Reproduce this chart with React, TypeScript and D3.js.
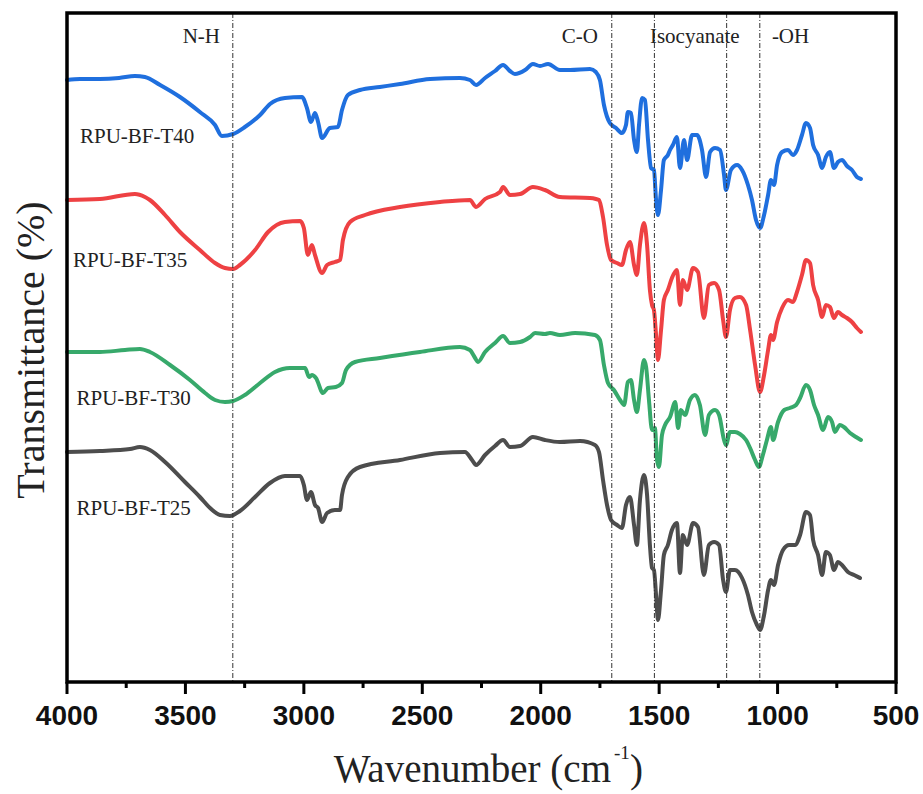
import React, { useEffect } from 'react';
import * as d3 from 'd3';

type Pt = [number, number];

const seriesNames = ['RPU-BF-T40', 'RPU-BF-T35', 'RPU-BF-T30', 'RPU-BF-T25'];
const seriesColors = ['#1f6fde', '#ee4143', '#37a96b', '#4d4d4d'];

const t40: Pt[] = [
  [4000, 602], [3945, 603], [3861, 603], [3780, 604], [3713, 606], [3671, 605], [3607, 597],
  [3523, 585], [3439, 570], [3375, 557], [3346, 546], [3299, 548], [3249, 555], [3185, 567],
  [3143, 578], [3080, 584], [3008, 585], [2987, 574], [2970, 560], [2953, 569], [2940, 560],
  [2923, 544], [2890, 554], [2856, 555], [2839, 572], [2814, 587], [2763, 592], [2679, 595],
  [2594, 598], [2467, 603], [2341, 604], [2299, 602], [2273, 597], [2235, 604], [2193, 611],
  [2159, 617], [2130, 611], [2109, 608], [2066, 612], [2033, 618], [2003, 616], [1969, 618],
  [1919, 612], [1876, 612], [1792, 613], [1767, 610], [1750, 602], [1733, 577], [1708, 559],
  [1682, 554], [1657, 549], [1640, 557], [1632, 570], [1619, 569], [1606, 542], [1594, 530],
  [1585, 557], [1572, 584], [1560, 582], [1547, 542], [1534, 514], [1522, 512], [1513, 482],
  [1505, 467], [1492, 492], [1480, 522], [1463, 527], [1454, 532], [1442, 537], [1425, 545],
  [1412, 514], [1395, 542], [1382, 522], [1361, 547], [1340, 547], [1319, 532], [1302, 505],
  [1285, 530], [1264, 534], [1243, 532], [1226, 507], [1218, 492], [1197, 512], [1171, 517],
  [1150, 512], [1125, 497], [1108, 482], [1091, 462], [1074, 454], [1057, 467], [1040, 487],
  [1028, 502], [1015, 497], [1002, 517], [981, 530], [956, 532], [935, 527], [918, 532],
  [897, 547], [880, 559], [863, 554], [850, 537], [829, 527], [812, 514], [796, 525],
  [779, 530], [762, 514], [745, 520], [728, 522], [707, 516], [686, 512], [665, 505], [648, 503],
];

const t35: Pt[] = [
  [4000, 482], [3861, 483], [3713, 488], [3671, 485], [3650, 482], [3586, 467], [3523, 450],
  [3439, 432], [3375, 419], [3333, 414], [3299, 413], [3270, 417], [3206, 432], [3151, 450],
  [3080, 460], [3016, 461], [3000, 454], [2983, 427], [2966, 437], [2953, 427], [2923, 409],
  [2902, 417], [2869, 420], [2847, 422], [2835, 442], [2805, 460], [2742, 467], [2594, 475],
  [2425, 480], [2299, 482], [2273, 475], [2235, 483], [2172, 490], [2159, 495], [2130, 487],
  [2087, 488], [2033, 495], [1982, 492], [1919, 485], [1792, 484], [1767, 483], [1754, 482],
  [1737, 465], [1720, 437], [1703, 422], [1678, 419], [1657, 417], [1640, 432], [1623, 440],
  [1606, 417], [1594, 407], [1581, 437], [1564, 459], [1551, 437], [1539, 392], [1530, 377],
  [1522, 372], [1513, 347], [1505, 322], [1492, 352], [1480, 382], [1463, 392], [1446, 404],
  [1425, 412], [1412, 377], [1400, 402], [1382, 392], [1357, 414], [1336, 410], [1311, 364],
  [1290, 397], [1268, 399], [1247, 392], [1230, 362], [1218, 345], [1201, 372], [1180, 384],
  [1159, 385], [1133, 377], [1116, 352], [1095, 317], [1074, 290], [1057, 307], [1040, 332],
  [1028, 347], [1019, 342], [1002, 360], [981, 374], [956, 382], [935, 380], [918, 390],
  [897, 407], [880, 422], [863, 419], [850, 397], [829, 382], [812, 365], [796, 377],
  [779, 375], [762, 364], [745, 370], [728, 367], [707, 364], [686, 360], [665, 354], [648, 350],
];

const t30: Pt[] = [
  [4000, 330], [3861, 330], [3755, 332], [3692, 333], [3650, 330], [3565, 317], [3481, 302],
  [3417, 289], [3375, 282], [3333, 280], [3299, 281], [3249, 287], [3185, 299], [3122, 310],
  [3059, 314], [2995, 314], [2978, 305], [2966, 307], [2949, 304], [2919, 289], [2898, 294],
  [2865, 295], [2839, 299], [2822, 312], [2784, 320], [2679, 324], [2510, 330], [2341, 335],
  [2299, 332], [2277, 324], [2265, 320], [2235, 330], [2193, 339], [2159, 346], [2130, 339],
  [2087, 340], [2045, 345], [2024, 349], [1982, 348], [1961, 349], [1919, 347], [1855, 349],
  [1771, 347], [1750, 342], [1733, 317], [1716, 299], [1691, 292], [1665, 282], [1648, 277],
  [1632, 300], [1619, 302], [1606, 282], [1594, 270], [1581, 292], [1564, 322], [1555, 315],
  [1543, 282], [1530, 252], [1518, 254], [1509, 222], [1501, 215], [1488, 247], [1475, 257],
  [1454, 265], [1432, 280], [1420, 254], [1408, 272], [1391, 267], [1370, 282], [1349, 287],
  [1328, 277], [1306, 247], [1290, 267], [1264, 272], [1247, 267], [1226, 242], [1218, 237],
  [1201, 250], [1180, 250], [1159, 248], [1133, 242], [1116, 234], [1095, 222], [1079, 215],
  [1062, 227], [1045, 242], [1028, 255], [1019, 242], [998, 260], [972, 272], [948, 274],
  [922, 277], [905, 284], [880, 297], [863, 292], [846, 277], [829, 267], [808, 252],
  [787, 265], [770, 260], [758, 250], [737, 257], [720, 255], [694, 249], [669, 245], [648, 242],
];

const t25: Pt[] = [
  [4000, 230], [3861, 231], [3734, 233], [3692, 235], [3650, 232], [3586, 220], [3502, 200],
  [3439, 185], [3396, 174], [3354, 167], [3312, 166], [3270, 171], [3206, 185], [3143, 199],
  [3080, 206], [3016, 206], [3000, 197], [2987, 182], [2970, 190], [2953, 177], [2940, 174],
  [2923, 160], [2902, 169], [2869, 172], [2847, 172], [2839, 187], [2814, 205], [2763, 215],
  [2594, 222], [2425, 229], [2320, 230], [2290, 222], [2273, 217], [2235, 227], [2193, 236],
  [2159, 242], [2130, 235], [2087, 236], [2033, 245], [1982, 242], [1919, 240], [1834, 241],
  [1771, 237], [1754, 230], [1737, 202], [1720, 177], [1703, 162], [1678, 157], [1657, 154],
  [1640, 177], [1623, 185], [1606, 157], [1594, 137], [1581, 182], [1564, 207], [1551, 187],
  [1539, 137], [1530, 114], [1522, 112], [1513, 87], [1505, 62], [1492, 92], [1480, 127],
  [1463, 137], [1446, 152], [1425, 159], [1412, 109], [1400, 147], [1382, 137], [1357, 159],
  [1336, 155], [1311, 107], [1290, 137], [1268, 140], [1247, 137], [1230, 102], [1218, 90],
  [1201, 112], [1180, 112], [1150, 104], [1125, 87], [1108, 70], [1087, 57], [1074, 52],
  [1057, 67], [1040, 92], [1028, 102], [1015, 97], [998, 117], [977, 132], [951, 137],
  [926, 137], [905, 147], [880, 170], [863, 167], [850, 142], [829, 127], [812, 107],
  [796, 130], [779, 127], [762, 112], [745, 120], [728, 117], [703, 110], [677, 107], [652, 104],
];

const seriesData = [t40, t35, t30, t25];

const majorTicks = [4000, 3500, 3000, 2500, 2000, 1500, 1000, 500];
const minorTicks = [3750, 3250, 2750, 2250, 1750, 1250, 750];
const bandLines = [3300, 1700, 1520, 1215, 1075];
const bandLabels = ['N-H', 'C-O', 'Isocyanate', '-OH'];

const W = 923;
const H = 794;
const M = { left: 67, right: 896, top: 13, bottom: 682 };

export default function App() {
  useEffect(() => {
    document.body.style.margin = '0';
  }, []);

  const x = d3.scaleLinear().domain([4000, 500]).range([M.left, M.right]);
  const y = d3.scaleLinear().domain([0, 670]).range([M.bottom, M.top - 1]);
  const line = d3
    .line<Pt>()
    .x((d) => x(d[0]))
    .y((d) => y(d[1]))
    .curve(d3.curveMonotoneX);

  // label layout: [wavenumber anchor, value anchor]
  const seriesLabelPos: Pt[] = [
    [3945, 539],
    [3975, 415],
    [3960, 277],
    [3960, 167],
  ];
  // band label layout: [wavenumber, anchor]
  const bandLabelPos: [number, string][] = [
    [3354, 'end'],
    [1758, 'end'],
    [1539, 'start'],
    [1024, 'start'],
  ];

  const serif = '"Liberation Serif", "Times New Roman", serif';
  const sans = '"Liberation Sans", Arial, sans-serif';

  return (
    <svg
      width={W}
      height={H}
      viewBox={`0 0 ${W} ${H}`}
      style={{ display: 'block', position: 'absolute', left: 0, top: 0, background: '#fff' }}
    >
      <rect x={0} y={0} width={W} height={H} fill="#fff" />
      {seriesData.map((d, i) => (
        <path
          key={seriesNames[i]}
          d={line(d) || ''}
          fill="none"
          stroke={seriesColors[i]}
          strokeWidth={4}
          strokeLinejoin="round"
          strokeLinecap="round"
        />
      ))}
      {bandLines.map((b) => (
        <line
          key={b}
          x1={x(b)}
          x2={x(b)}
          y1={M.top}
          y2={M.bottom}
          stroke="#333"
          strokeWidth={1}
          strokeDasharray="5 2 1 2"
        />
      ))}
      {bandLabels.map((t, i) => (
        <text
          key={t}
          x={x(bandLabelPos[i][0])}
          y={43}
          textAnchor={bandLabelPos[i][1] as any}
          fontFamily={serif}
          fontSize={21}
          fill="#222"
        >
          {t}
        </text>
      ))}
      {seriesNames.map((n, i) => (
        <text
          key={n}
          x={x(seriesLabelPos[i][0])}
          y={y(seriesLabelPos[i][1])}
          fontFamily={serif}
          fontSize={21}
          fill="#222"
        >
          {n}
        </text>
      ))}
      <rect
        x={M.left}
        y={M.top}
        width={M.right - M.left}
        height={M.bottom - M.top}
        fill="none"
        stroke="#000"
        strokeWidth={3.5}
      />
      {majorTicks.map((t) => (
        <g key={t}>
          <line x1={x(t)} x2={x(t)} y1={M.bottom} y2={M.bottom + 12} stroke="#000" strokeWidth={3} />
          <text
            x={x(t)}
            y={M.bottom + 43}
            textAnchor="middle"
            fontFamily={sans}
            fontWeight="bold"
            fontSize={28}
            fill="#111"
          >
            {t}
          </text>
        </g>
      ))}
      {minorTicks.map((t) => (
        <line key={t} x1={x(t)} x2={x(t)} y1={M.bottom} y2={M.bottom + 6} stroke="#000" strokeWidth={3} />
      ))}
      <g fontFamily={serif} fill="#222">
        <text x={611} y={782} textAnchor="end" fontSize={39}>
          Wavenumber (cm
        </text>
        <text x={614} y={759} fontSize={19}>
          -1
        </text>
        <text x={630} y={782} fontSize={39}>
          )
        </text>
      </g>
      <text
        transform={`translate(44, 350) rotate(-90)`}
        textAnchor="middle"
        fontFamily={serif}
        fontSize={40}
        fill="#222"
      >
        Transmittance (%)
      </text>
    </svg>
  );
}
